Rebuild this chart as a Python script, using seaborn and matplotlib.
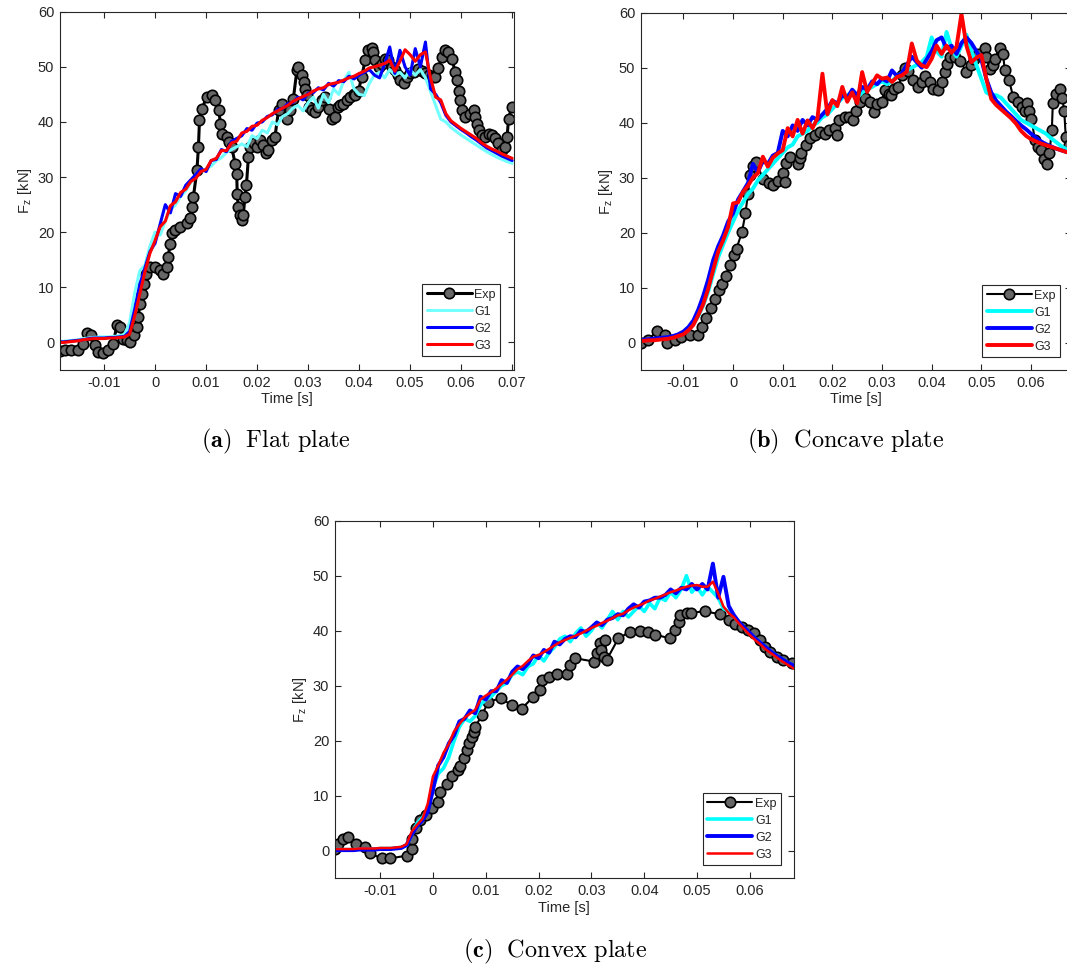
import numpy as np
import pandas as pd
import matplotlib
matplotlib.use("Agg")
import matplotlib.pyplot as plt
import seaborn as sns

# ---------------------------------------------------------------------------
# Vertical impact force F_z on the three plate geometries
# Simulation results (G1, G2, G3) are sampled every 1 ms from -19 ms to 70 ms
# ---------------------------------------------------------------------------
SIM_T_MS = np.arange(-19, 71)

XTICKS_A = [-0.01, 0.0, 0.01, 0.02, 0.03, 0.04, 0.05, 0.06, 0.07]
XTICKLABELS_A = ["-0.01", "0", "0.01", "0.02", "0.03", "0.04", "0.05", "0.06", "0.07"]
XTICKS_BC = [-0.01, 0.0, 0.01, 0.02, 0.03, 0.04, 0.05, 0.06]
XTICKLABELS_BC = ["-0.01", "0", "0.01", "0.02", "0.03", "0.04", "0.05", "0.06"]
YTICKS = [0, 10, 20, 30, 40, 50, 60]
YTICKLABELS = ["0", "10", "20", "30", "40", "50", "60"]
SERIES = ["Exp", "G1", "G2", "G3"]

# --- (a) flat plate -------------------------------------------------------
A_EXP_T = [-18.7, -17.7, -16.4, -15.1, -14.1, -13.4, -12.5, -11.8, -11.2, -10.2,
           -9.2, -8.2, -7.5, -6.9, -6.2, -5.5, -4.9, -4.2, -3.6, -3.3,
           -3.0, -2.5, -2.1, -1.7, -1.0, 0.0, 1.0, 1.6, 2.3, 2.6,
           2.9, 3.3, 3.9, 4.9, 6.2, 6.9, 7.2, 7.5, 8.2, 8.5,
           8.7, 9.2, 10.1, 11.1, 11.8, 12.5, 12.8, 13.1, 14.1, 14.4,
           15.0, 15.7, 16.0, 16.1, 16.3, 16.7, 17.0, 17.3, 17.6, 17.9,
           18.3, 18.6, 19.3, 19.9, 20.6, 21.2, 21.7, 22.2, 22.9, 23.5,
           24.2, 24.8, 25.8, 26.4, 27.1, 27.8, 28.1, 28.8, 29.1, 29.4,
           29.7, 30.1, 30.7, 31.4, 32.0, 32.7, 33.3, 34.0, 34.6, 35.3,
           35.9, 36.3, 36.9, 37.6, 38.2, 38.9, 39.2, 39.9, 40.5, 41.2,
           41.8, 42.5, 42.8, 43.1, 43.8, 44.4, 45.1, 45.7, 46.4, 47.0,
           47.7, 48.0, 48.7, 49.3, 50.0, 50.7, 51.6, 52.3, 52.9, 53.6,
           54.2, 54.9, 55.5, 56.2, 56.9, 57.5, 58.2, 58.8, 59.2, 59.5,
           59.8, 60.2, 60.8, 61.8, 62.5, 62.8, 63.1, 63.4, 64.1, 64.7,
           65.4, 66.0, 66.7, 67.3, 68.0, 68.6, 69.0, 69.3, 69.9]
A_EXP_F = [-1.5, -1.4, -1.3, -1.4, -0.2, 1.75, 1.3, -0.5, -1.7, -2.0,
           -1.4, -0.2, 3.1, 2.8, 0.7, 0.4, 0.1, 1.3, 2.8, 4.6,
           7.0, 8.8, 10.6, 12.5, 13.7, 13.7, 13.1, 12.5, 13.7, 15.5,
           17.9, 19.8, 20.4, 21.0, 21.6, 22.5, 24.6, 26.4, 31.2, 35.5,
           40.3, 42.4, 44.5, 44.8, 43.9, 42.1, 39.7, 37.9, 37.3, 36.4,
           35.5, 32.4, 30.6, 27.0, 24.6, 23.1, 22.2, 23.1, 26.4, 28.5,
           33.7, 35.5, 36.1, 35.5, 36.7, 35.8, 34.3, 34.9, 36.7, 37.3,
           42.1, 43.3, 40.6, 42.1, 44.2, 49.4, 50.0, 48.5, 47.3, 46.0,
           44.8, 42.7, 42.1, 41.8, 42.7, 43.9, 44.5, 42.4, 40.6, 40.9,
           42.7, 43.0, 43.3, 43.9, 44.5, 45.1, 44.8, 45.7, 48.2, 51.2,
           53.0, 53.5, 52.7, 51.2, 50.0, 50.6, 51.5, 51.2, 50.0, 49.4,
           48.5, 47.6, 47.0, 48.2, 48.8, 49.0, 49.6, 49.3, 48.8, 48.5,
           48.2, 48.2, 49.7, 51.8, 53.0, 52.7, 51.5, 49.1, 47.6, 45.7,
           43.9, 42.1, 40.9, 41.5, 42.1, 40.9, 39.7, 38.5, 37.6, 37.3,
           37.9, 37.6, 37.0, 36.1, 34.9, 35.5, 37.3, 40.6, 42.7]
A_G1 = [0.2, 0.2, 0.3, 0.4, 0.5, 0.7, 0.8, 0.9, 1.0, 1.0,
        1.0, 1.1, 1.2, 1.5, 3.5, 9.0, 13.0, 14.0, 17.5, 20.0,
        19.5, 22.0, 24.0, 25.0, 26.5, 27.5, 29.0, 30.5, 31.0, 31.5,
        32.0, 33.0, 33.5, 34.5, 35.0, 35.5, 36.0, 35.5, 37.5, 37.0,
        38.5, 38.0, 40.0, 39.5, 41.0, 41.5, 42.5, 43.0, 42.0, 43.5,
        44.5, 42.5, 45.0, 43.5, 46.0, 45.0, 47.5, 49.0, 46.0, 45.0,
        44.8, 47.0, 48.5, 49.0, 48.0, 49.5, 48.5, 49.0, 48.0, 49.5,
        48.5, 49.5, 48.0, 45.5, 43.0, 40.5, 40.0, 39.0, 38.3, 37.6,
        37.0, 36.4, 35.8, 35.2, 34.6, 34.1, 33.6, 33.2, 32.8, 32.5]
A_G2 = [0.1, 0.1, 0.2, 0.3, 0.4, 0.5, 0.7, 0.8, 0.8, 0.8,
        0.9, 0.9, 1.0, 1.1, 2.0, 6.0, 10.5, 13.5, 16.5, 18.0,
        21.5, 25.0, 23.5, 27.0, 26.5, 28.5, 29.5, 30.5, 31.5, 31.0,
        33.0, 33.2, 35.0, 34.6, 36.5, 37.0, 37.5, 38.8, 38.5, 39.8,
        40.0, 41.0, 41.3, 42.3, 42.4, 43.3, 43.5, 44.5, 44.0, 45.2,
        45.3, 46.2, 45.8, 47.0, 46.5, 47.5, 47.3, 48.3, 47.8, 48.5,
        49.0, 49.5, 48.5, 48.0, 50.5, 53.6, 48.8, 53.0, 50.0, 48.5,
        53.3, 50.0, 54.5, 46.0, 45.0, 43.5, 41.2, 40.0, 39.3, 38.6,
        38.0, 37.3, 36.7, 36.0, 35.3, 34.8, 34.3, 33.8, 33.4, 33.0]
A_G3 = [0.0, 0.0, 0.1, 0.2, 0.3, 0.5, 0.6, 0.7, 0.7, 0.7,
        0.8, 0.8, 0.9, 1.0, 1.5, 4.8, 8.8, 12.8, 16.2, 18.5,
        21.0, 22.0, 24.8, 25.5, 27.2, 27.8, 29.2, 29.8, 31.0, 31.4,
        33.0, 33.4, 34.8, 34.8, 36.2, 36.5, 38.0, 38.3, 39.2, 39.4,
        40.3, 40.8, 41.5, 42.0, 42.5, 43.0, 43.7, 44.2, 44.6, 45.0,
        45.6, 46.0, 46.2, 46.8, 47.0, 47.2, 47.6, 48.0, 48.3, 48.8,
        49.2, 49.8, 50.0, 50.3, 50.6, 51.2, 49.2, 51.0, 53.1, 52.2,
        51.0, 52.2, 52.7, 48.0, 44.5, 44.0, 41.5, 40.2, 39.5, 38.8,
        38.2, 37.6, 37.0, 36.2, 35.6, 35.1, 34.7, 34.2, 33.8, 33.4]

# --- (b) concave plate ----------------------------------------------------
B_EXP_T = [-18.6, -17.1, -15.4, -13.7, -13.3, -11.7, -10.4, -8.7, -7.0, -6.2,
           -5.4, -4.5, -3.7, -2.9, -2.2, -1.5, -0.7, 0.2, 0.7, 1.8,
           2.5, 3.0, 3.4, 4.0, 4.7, 6.0, 7.2, 8.0, 9.0, 10.0,
           10.4, 10.6, 11.5, 13.1, 13.4, 13.7, 14.7, 15.5, 16.5, 17.6,
           18.5, 19.4, 20.5, 20.9, 21.3, 22.5, 23.4, 24.2, 24.7, 25.5,
           26.6, 27.6, 28.4, 29.0, 29.9, 30.6, 31.4, 31.9, 32.5, 33.3,
           34.0, 34.6, 35.3, 36.3, 37.3, 38.0, 38.6, 39.6, 40.2, 41.3,
           42.0, 42.7, 43.0, 43.7, 44.7, 45.7, 47.0, 47.9, 48.6, 49.4,
           50.7, 51.0, 51.7, 52.3, 52.7, 53.7, 54.4, 54.7, 55.6, 56.4,
           57.4, 58.1, 58.7, 59.2, 59.7, 60.1, 60.8, 61.4, 62.1, 62.6,
           63.2, 63.7, 64.2, 64.4, 65.1, 65.8, 66.3, 66.7, 67.0, 67.6,
           68.5]
B_EXP_F = [0.0, 0.4, 2.1, 1.3, 0.0, 0.4, 1.0, 1.3, 1.3, 2.8,
           4.4, 6.2, 8.0, 9.5, 10.7, 12.1, 14.1, 15.9, 17.1, 20.1,
           23.5, 27.1, 30.4, 32.2, 32.8, 29.8, 29.0, 28.6, 29.3, 30.8,
           29.2, 32.6, 33.8, 32.5, 33.5, 34.4, 35.9, 37.2, 37.8, 38.3,
           38.0, 38.6, 39.0, 37.8, 40.4, 41.0, 41.0, 40.4, 42.2, 43.7,
           44.5, 43.8, 41.9, 43.4, 43.8, 45.9, 45.2, 45.0, 46.1, 46.5,
           48.6, 50.0, 49.4, 47.7, 46.5, 47.4, 48.5, 47.4, 46.1, 45.9,
           47.4, 49.2, 50.7, 51.9, 51.9, 51.3, 49.2, 50.4, 51.5, 52.5,
           53.5, 51.9, 49.8, 50.5, 51.6, 53.6, 52.5, 49.5, 47.7, 44.7,
           43.8, 42.8, 42.2, 43.6, 42.2, 40.7, 36.8, 35.6, 35.0, 33.4,
           32.5, 34.4, 38.6, 43.5, 45.3, 46.2, 44.4, 42.2, 37.4, 36.0,
           37.5]
B_G1 = [0.4, 0.4, 0.5, 0.6, 0.7, 0.8, 0.9, 1.1, 1.3, 1.7,
        2.3, 3.3, 4.8, 6.8, 9.3, 12.5, 15.5, 17.8, 20.0, 22.0,
        24.0, 25.5, 27.0, 28.0, 29.5, 30.5, 31.5, 32.5, 33.5, 34.5,
        35.5, 36.0, 37.5, 38.0, 38.5, 39.5, 40.0, 41.0, 41.5, 42.5,
        43.5, 44.5, 45.0, 45.5, 44.5, 45.5, 46.0, 46.5, 47.0, 47.5,
        47.0, 47.5, 48.5, 49.0, 49.5, 50.0, 50.5, 51.0, 52.0, 55.5,
        53.0, 52.0, 56.5, 53.5, 52.0, 54.0, 56.0, 53.0, 50.5, 48.0,
        45.5, 45.0, 45.0, 44.5, 43.5, 42.5, 41.5, 40.5, 40.0, 39.5,
        39.0, 38.5, 38.0, 37.2, 36.5, 35.8, 35.2, 34.8, 34.4, 34.0]
B_G2 = [0.5, 0.5, 0.6, 0.7, 0.8, 0.9, 1.0, 1.2, 1.5, 2.0,
        2.8, 4.0, 6.0, 8.5, 11.5, 15.0, 17.5, 19.5, 22.0, 23.5,
        26.0, 27.5, 29.0, 32.5, 31.0, 33.0, 32.5, 34.0, 34.5, 38.5,
        37.5, 39.5, 38.5, 40.5, 39.5, 41.0, 40.5, 41.5, 42.5, 44.0,
        43.5, 45.0, 44.5, 46.0, 45.0, 46.5, 46.0, 47.5, 47.0, 48.0,
        47.5, 49.5, 48.5, 49.0, 50.5, 52.0, 51.0, 50.0, 51.5, 53.0,
        55.0, 55.5, 53.5, 54.0, 52.5, 54.5, 55.5, 54.5, 53.0, 51.5,
        48.0, 45.5, 44.0, 43.0, 42.0, 41.2, 40.3, 39.5, 38.8, 38.0,
        37.3, 36.6, 36.1, 35.7, 35.3, 35.0, 34.7, 34.5, 34.3, 34.1]
B_G3 = [0.3, 0.3, 0.4, 0.4, 0.5, 0.6, 0.7, 0.9, 1.2, 1.5,
        2.2, 3.2, 5.0, 7.0, 9.8, 13.2, 16.5, 18.6, 21.0, 25.3,
        25.5, 27.4, 28.5, 30.0, 30.8, 33.8, 32.0, 33.6, 34.4, 35.0,
        39.0, 37.5, 40.5, 38.0, 40.4, 39.0, 40.8, 48.9, 41.5, 44.1,
        43.0, 46.5, 43.8, 45.5, 43.5, 49.2, 45.6, 47.1, 48.6, 48.0,
        48.2, 47.4, 48.3, 48.6, 49.3, 54.4, 51.3, 50.4, 50.1, 51.6,
        54.0, 52.5, 54.0, 52.7, 53.8, 59.8, 54.0, 51.0, 51.8, 52.3,
        48.0, 44.3, 43.2, 42.4, 41.6, 40.8, 39.8, 38.5, 37.6, 37.0,
        36.6, 36.2, 35.9, 35.6, 35.3, 35.0, 34.7, 34.4, 34.2, 34.0]

# --- (c) convex plate -----------------------------------------------------
C_EXP_T = [-18.5, -17.9, -17.0, -16.1, -14.6, -12.8, -11.9, -9.7, -8.1, -5.0,
           -4.0, -3.9, -3.3, -2.4, -1.4, -0.2, 0.9, 1.4, 2.6, 3.7,
           4.8, 5.2, 5.8, 6.4, 6.8, 7.3, 7.7, 8.0, 9.3, 10.5,
           12.8, 14.9, 16.8, 19.0, 20.3, 20.6, 21.9, 23.5, 25.3, 25.9,
           26.9, 30.4, 31.0, 31.6, 31.9, 32.3, 32.6, 32.9, 35.1, 37.3,
           39.2, 40.8, 42.0, 44.9, 45.8, 46.5, 46.8, 48.1, 48.9, 51.5,
           54.4, 56.0, 57.2, 58.5, 59.7, 60.7, 61.9, 62.9, 63.8, 65.1,
           66.3, 67.9]
C_EXP_F = [0.4, 1.3, 2.2, 2.5, 1.3, 0.7, -0.5, -1.4, -1.4, -0.9,
           0.4, 2.2, 4.1, 5.6, 6.5, 7.7, 8.9, 10.7, 12.2, 13.5,
           14.7, 15.4, 16.8, 18.3, 19.5, 20.7, 21.6, 22.5, 24.7, 27.1,
           27.7, 26.5, 25.8, 28.0, 29.2, 31.0, 31.6, 32.1, 32.2, 33.8,
           35.0, 34.4, 35.9, 37.7, 36.5, 35.3, 38.3, 34.7, 38.6, 39.8,
           39.9, 39.7, 39.3, 38.6, 40.1, 41.6, 42.8, 43.3, 43.3, 43.5,
           43.0, 41.9, 41.3, 40.7, 40.1, 39.5, 38.3, 37.1, 36.2, 35.3,
           34.7, 34.1]
C_G1 = [0.2, 0.2, 0.2, 0.2, 0.2, 0.3, 0.3, 0.3, 0.3, 0.4,
        0.4, 0.4, 0.5, 0.6, 1.0, 3.0, 5.0, 6.0, 7.5, 11.5,
        14.0, 15.0, 17.0, 20.0, 22.5, 24.0, 23.5, 24.5, 26.5, 27.5,
        28.0, 29.0, 30.0, 30.5, 32.0, 32.5, 32.0, 33.5, 34.0, 35.5,
        34.5, 36.0, 37.0, 38.5, 39.0, 38.0, 39.5, 40.5, 39.0, 40.0,
        41.5, 40.5, 42.0, 43.5, 42.0, 43.5, 42.5, 43.5, 44.5, 43.5,
        45.0, 44.0, 46.0, 45.5, 47.0, 46.0, 47.5, 50.0, 47.0, 48.0,
        46.5, 48.0, 47.0, 46.0, 44.0, 43.5, 42.6, 41.4, 40.4, 39.5,
        38.6, 37.8, 37.0, 36.2, 35.5, 34.9, 34.3, 33.8, 33.3, 32.9]
C_G2 = [0.1, 0.1, 0.1, 0.1, 0.1, 0.2, 0.2, 0.2, 0.2, 0.3,
        0.3, 0.3, 0.4, 0.5, 1.0, 3.0, 4.5, 5.5, 7.0, 11.0,
        15.5, 17.0, 19.5, 21.0, 23.5, 24.0, 25.5, 25.0, 28.0, 27.5,
        29.0, 29.0, 31.0, 30.5, 32.5, 33.5, 33.0, 34.0, 35.5, 35.0,
        36.5, 36.0, 38.0, 37.5, 38.5, 39.0, 38.8, 40.0, 39.8, 40.6,
        41.5, 41.0, 42.0, 42.3, 43.0, 42.8, 44.0, 44.8, 44.2, 45.3,
        45.5, 46.0, 46.0, 46.5, 47.5, 46.8, 47.8, 47.5, 48.5, 47.5,
        48.5, 47.5, 52.2, 46.0, 49.8, 44.5, 42.8, 41.5, 40.5, 39.6,
        38.6, 37.8, 37.0, 36.2, 35.5, 34.9, 34.3, 33.8, 33.3, 32.8]
C_G3 = [0.3, 0.3, 0.3, 0.3, 0.3, 0.4, 0.4, 0.4, 0.4, 0.5,
        0.5, 0.5, 0.6, 0.7, 1.2, 3.5, 4.7, 5.8, 8.5, 13.5,
        15.5, 17.8, 19.4, 21.7, 23.0, 24.2, 24.9, 25.6, 27.5, 28.2,
        28.8, 29.5, 30.3, 31.1, 32.0, 33.0, 33.6, 34.5, 35.3, 35.6,
        36.1, 36.7, 37.3, 37.9, 38.3, 38.7, 39.1, 39.5, 40.0, 40.5,
        40.9, 41.4, 41.8, 42.3, 42.8, 43.1, 43.7, 44.2, 44.6, 45.0,
        45.5, 45.8, 46.2, 46.6, 47.0, 47.3, 47.7, 48.0, 48.2, 48.3,
        48.0, 48.0, 48.9, 46.8, 44.4, 43.2, 42.4, 41.2, 40.2, 39.2,
        38.3, 37.5, 36.6, 35.9, 35.2, 34.5, 33.9, 33.3, 32.8, 32.3]

# ---------------------------------------------------------------------------
sns.set_style("ticks")
plt.rcParams.update({
    "font.family": ["Liberation Sans", "DejaVu Sans"],
    "mathtext.fontset": "cm",
    "axes.unicode_minus": False,
    "axes.edgecolor": "#262626",
    "axes.linewidth": 0.8,
})

AX_COLOR = "#262626"
EXP_FACE = "#666666"


def draw_panel(ax, exp_t, exp_f, g1, g2, g3, g1_color, widths, xlim,
               xticks, xticklabels, legend_anchor):
    exp = pd.DataFrame({"t": np.asarray(exp_t) * 1e-3, "F": exp_f})
    sim = pd.DataFrame({"t": SIM_T_MS * 1e-3, "G1": g1, "G2": g2, "G3": g3})

    sns.lineplot(data=exp, x="t", y="F", ax=ax, sort=False, estimator=None,
                 color="black", lw=widths[0], marker="o", markersize=7.5,
                 markerfacecolor=EXP_FACE, markeredgecolor="black",
                 markeredgewidth=1.2, label=SERIES[0])
    for name, col, lw in zip(SERIES[1:], [g1_color, "#0000ff", "#ff0000"], widths[1:]):
        sns.lineplot(data=sim, x="t", y=name, ax=ax, sort=False, estimator=None,
                     color=col, lw=lw, label=name)

    ax.set_xlim(*xlim)
    ax.set_ylim(-5, 60)
    ax.set_xticks(xticks)
    ax.set_xticklabels(xticklabels)
    ax.set_yticks(YTICKS)
    ax.set_yticklabels(YTICKLABELS)
    ax.tick_params(direction="in", length=4, width=0.8, top=True, right=True,
                   colors=AX_COLOR, labelsize=10.5, pad=4)
    for sp in ax.spines.values():
        sp.set_visible(True)
        sp.set_color(AX_COLOR)
        sp.set_linewidth(0.8)
    ax.set_xlabel("Time [s]", fontsize=10.5, color=AX_COLOR, labelpad=2)
    ax.set_ylabel(r"F$_{\mathregular{z}}$ [kN]", fontsize=10.5, color=AX_COLOR,
                  labelpad=3)

    leg = ax.legend(loc="lower right", bbox_to_anchor=legend_anchor,
                    borderaxespad=0, fontsize=9, frameon=True, fancybox=False,
                    framealpha=1, edgecolor=AX_COLOR, handlelength=3.6,
                    handletextpad=0.2, labelspacing=0.4, borderpad=0.35,
                    numpoints=1)
    leg.get_frame().set_linewidth(0.8)


W, H = 1067, 969
fig = plt.figure(figsize=(W / 100, H / 100), dpi=100)

ax_a = fig.add_axes([59.7 / W, 1 - 370 / H, 454 / W, 358.3 / H])
ax_b = fig.add_axes([640.7 / W, 1 - 370 / H, 430 / W, 357.3 / H])
ax_c = fig.add_axes([334.7 / W, 1 - 878.2 / H, 459 / W, 357.5 / H])

draw_panel(ax_a, A_EXP_T, A_EXP_F, A_G1, A_G2, A_G3, "#73ffff",
           [2.2, 2.2, 2.2, 2.2], (-0.0187, 0.0703),
           XTICKS_A, XTICKLABELS_A, (0.970, 0.039))
draw_panel(ax_b, B_EXP_T, B_EXP_F, B_G1, B_G2, B_G3, "#00ffff",
           [1.5, 2.8, 2.8, 2.8], (-0.0186, 0.068),
           XTICKS_BC, XTICKLABELS_BC, (0.975, 0.036))
draw_panel(ax_c, C_EXP_T, C_EXP_F, C_G1, C_G2, C_G3, "#00ffff",
           [1.5, 2.6, 2.8, 1.8], (-0.0186, 0.0683),
           XTICKS_BC, XTICKLABELS_BC, (0.972, 0.037))

cap_kw = dict(ha="center", va="center", fontsize=17.5, color="black")
fig.text(276 / W, 1 - 441 / H, r"$\mathbf{(a)}\ \ \mathrm{Flat\ plate}$", **cap_kw)
fig.text(846 / W, 1 - 441 / H, r"$\mathbf{(b)}\ \ \mathrm{Concave\ plate}$", **cap_kw)
fig.text(555 / W, 1 - 951 / H, r"$\mathbf{(c)}\ \ \mathrm{Convex\ plate}$", **cap_kw)

fig.savefig("out.png", dpi=100)
